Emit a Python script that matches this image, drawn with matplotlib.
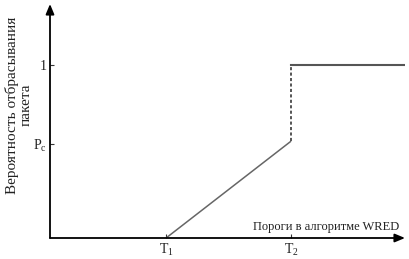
import matplotlib.pyplot as plt

# threshold positions on the x axis and drop probability levels
x_ticks = [0.327, 0.679]
x_labels = ["T$_1$", "T$_2$"]
y_ticks = [0.545, 1.0]
y_labels = ["P$_\\mathregular{c}$", "1"]

# WRED drop profile
ramp_x = [0.327, 0.679]
ramp_y = [0.0, 0.56]
jump_x = [0.679, 0.679]
jump_y = [0.56, 1.0]
top_x = [0.679, 1.0]
top_y = [1.0, 1.0]

plt.rcParams["font.family"] = ["Liberation Serif", "DejaVu Serif"]
plt.rcParams["mathtext.fontset"] = "custom"
plt.rcParams["mathtext.rm"] = "Liberation Serif"
plt.rcParams["mathtext.it"] = "Liberation Serif"

W, H = 409, 259
fig = plt.figure(figsize=(W / 100, H / 100), dpi=100)
ax = fig.add_axes([50 / W, (H - 238) / H, (405 - 50) / W, (238 - 4) / H])
ax.set_xlim(0, 1)
ax.set_ylim(0, 1.353)
for s in ax.spines.values():
    s.set_visible(False)

line_c = "#555555"
ax.plot(ramp_x, ramp_y, color="#666666", lw=1.1, solid_capstyle="butt")
ax.plot(jump_x, jump_y, color=line_c, lw=1.4, ls=(0, (1.6, 1.2)))
ax.plot(top_x, top_y, color=line_c, lw=1.5)

# axes with arrows
arrow = dict(arrowstyle="-|>,head_length=0.6,head_width=0.25", color="black",
             lw=1.3, shrinkA=0, shrinkB=0)
ax.annotate("", xy=(1.0, 0), xytext=(0, 0), xycoords="data", arrowprops=arrow,
            annotation_clip=False)
ax.annotate("", xy=(0, 1.353), xytext=(0, 0), xycoords="data", arrowprops=arrow,
            annotation_clip=False)

ax.set_xticks(x_ticks)
ax.set_xticklabels(x_labels, fontsize=10)
ax.set_yticks(y_ticks)
ax.set_yticklabels(y_labels, fontsize=10)
ax.tick_params(direction="in", length=3, width=0.8, colors="#333333")
ax.tick_params(axis="x", pad=2.5)
ax.tick_params(axis="y", pad=2)
for lab in ax.get_xticklabels() + ax.get_yticklabels():
    lab.set_color("#222222")

ax.text(0.985, 0.03, "Пороги в алгоритме WRED", fontsize=9, ha="right",
        va="bottom", color="#222222")
fig.text(19 / W, 1 - 105 / H, "Вероятность отбрасывания\nпакета", rotation=90,
         ha="center", va="center", fontsize=11, color="#222222",
         multialignment="center", linespacing=1.05)

fig.savefig("out.png", dpi=100)
